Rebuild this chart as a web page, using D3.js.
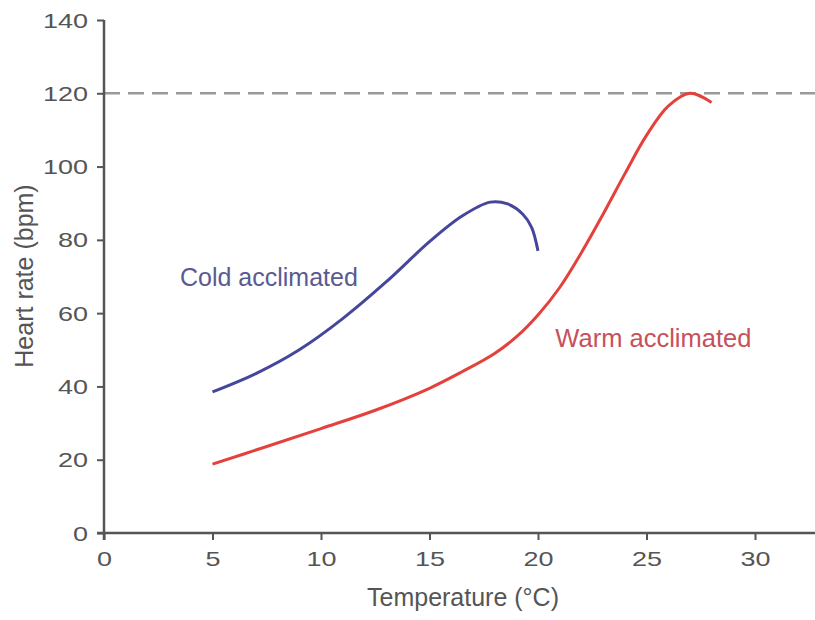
<!DOCTYPE html>
<html>
<head>
<meta charset="utf-8">
<script src="https://cdn.jsdelivr.net/npm/d3@7/dist/d3.min.js"></script>
<style>
  html, body { margin: 0; padding: 0; background: #fff; }
  svg { display: block; font-family: "Liberation Sans", Arial, Helvetica, sans-serif; }
</style>
</head>
<body>
<svg id="chart" width="815" height="620"></svg>
<script>
// ---- Data ----
const coldTemp  = [5, 7, 9, 11, 13, 15, 16.5, 17.8, 18.6, 19.3, 19.7, 20];
const coldRate  = [38.5, 43.5, 50, 58.5, 68.5, 79.5, 86.5, 90.3, 89.8, 87, 83.5, 77];
const warmTemp  = [5, 7.5, 10, 12.5, 15, 16.5, 18, 19, 20, 21, 22, 23, 24, 25, 26, 27, 28];
const warmRate  = [18.8, 23.6, 28.5, 33.5, 39.5, 44, 49, 53.5, 59.5, 67, 76.5, 87, 98, 108.5, 116.5, 120, 117.5];
const xTicks = [0, 5, 10, 15, 20, 25, 30];
const yTicks = [0, 20, 40, 60, 80, 100, 120, 140];
const referenceRate = 120;
const xTitle = "Temperature (°C)";
const yTitle = "Heart rate (bpm)";
const coldLabel = "Cold acclimated";
const warmLabel = "Warm acclimated";

// ---- Layout ----
const svg = d3.select("#chart");
const W = 815;
const x = d3.scaleLinear().domain([0, 30]).range([104, 755]);
const y = d3.scaleLinear().domain([0, 140]).range([533, 20]);
const axisColor = "#555";
const textColor = "#555";
const stretch = 1.35;

// dashed reference line
svg.append("line")
  .attr("x1", x(0)).attr("x2", W)
  .attr("y1", y(referenceRate)).attr("y2", y(referenceRate))
  .attr("stroke", "#9a9a9a").attr("stroke-width", 2.5)
  .attr("stroke-dasharray", "16,8");

// axes
const xAxis = d3.axisBottom(x).tickValues(xTicks).tickSize(7).tickFormat(d3.format("d"));
const yAxis = d3.axisLeft(y).tickValues(yTicks).tickSize(7).tickFormat(d3.format("d"));

const gx = svg.append("g").attr("transform", `translate(0,${y(0)})`).call(xAxis);
const gy = svg.append("g").attr("transform", `translate(${x(0)},0)`).call(yAxis);

[gx, gy].forEach(g => {
  g.select(".domain").remove();
  g.selectAll(".tick line").attr("stroke", axisColor).attr("stroke-width", 2);
  g.selectAll(".tick text").attr("fill", textColor).style("font-size", "20px");
});
// stretched tick labels (the reference type is wide)
gx.selectAll(".tick text")
  .attr("x", null).attr("y", null).attr("dy", null)
  .attr("text-anchor", "middle")
  .attr("transform", `translate(0,33) scale(${stretch},1)`);
gy.selectAll(".tick text")
  .attr("x", null).attr("dy", null)
  .attr("text-anchor", "end")
  .attr("transform", `translate(-16,7) scale(${stretch},1)`);

// axis lines
svg.append("line").attr("x1", x(0) - 7).attr("x2", W)
  .attr("y1", y(0)).attr("y2", y(0))
  .attr("stroke", axisColor).attr("stroke-width", 2.5);
svg.append("line").attr("x1", x(0)).attr("x2", x(0))
  .attr("y1", y(140)).attr("y2", y(0) + 7)
  .attr("stroke", axisColor).attr("stroke-width", 2.5);

// curves
const line = d3.line().x(d => x(d[0])).y(d => y(d[1])).curve(d3.curveCatmullRom.alpha(0.5));
const cold = coldTemp.map((t, i) => [t, coldRate[i]]);
const warm = warmTemp.map((t, i) => [t, warmRate[i]]);

svg.append("path").datum(cold).attr("d", line)
  .attr("fill", "none").attr("stroke", "#46469c").attr("stroke-width", 3);
svg.append("path").datum(warm).attr("d", line)
  .attr("fill", "none").attr("stroke", "#e5413c").attr("stroke-width", 3);

// series labels
svg.append("text").attr("x", x(3.5)).attr("y", y(67.5))
  .attr("fill", "#5a5a92").style("font-size", "25px").text(coldLabel);
svg.append("text").attr("x", x(20.8)).attr("y", y(50.8))
  .attr("fill", "#c8505a").style("font-size", "25.5px").text(warmLabel);

// axis titles
svg.append("text").attr("x", 463).attr("y", 606)
  .attr("text-anchor", "middle").attr("fill", textColor)
  .style("font-size", "25px").text(xTitle);
svg.append("text")
  .attr("transform", `translate(33,${276}) rotate(-90)`)
  .attr("text-anchor", "middle").attr("fill", textColor)
  .style("font-size", "25px").text(yTitle);
</script>
</body>
</html>
